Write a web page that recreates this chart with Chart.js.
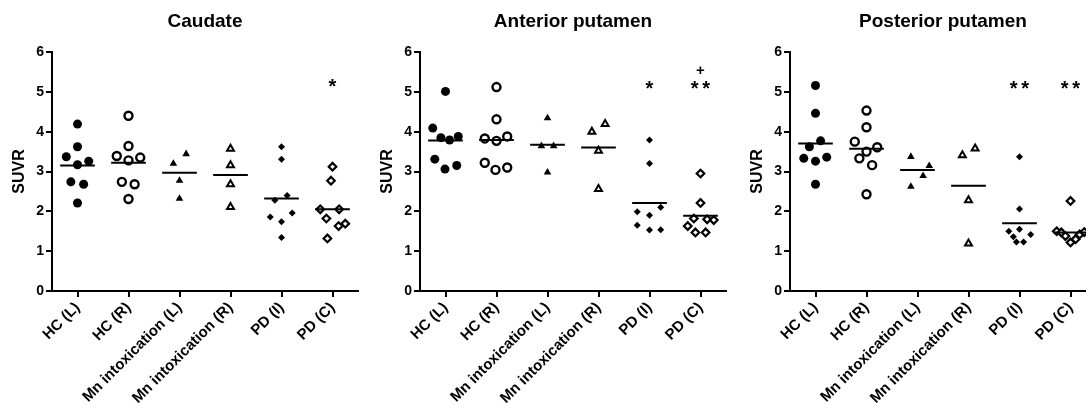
<!DOCTYPE html>
<html>
<head>
<meta charset="utf-8">
<script src="https://cdn.jsdelivr.net/npm/chart.js@4/dist/chart.umd.min.js"></script>
<style>
html,body{margin:0;padding:0;background:#fff;overflow:hidden;width:1086px;height:408px}
.panel{position:absolute;top:0}
</style>
</head>
<body>
<canvas id="c1" class="panel" width="368" height="408" style="left:0px"></canvas>
<canvas id="c2" class="panel" width="368" height="408" style="left:368px"></canvas>
<canvas id="c3" class="panel" width="368" height="408" style="left:738px"></canvas>
<script>
// ── Data ──
const groups=['HC (L)','HC (R)','Mn intoxication (L)','Mn intoxication (R)','PD (I)','PD (C)'];
const yTicks=[0,1,2,3,4,5,6];

// SUVR per subject, one list per group
const caudateVals=[
  [4.19,3.62,3.37,3.17,3.26,2.74,2.68,2.21],
  [4.40,3.64,3.39,3.28,3.35,2.74,2.68,2.31],
  [3.44,3.20,2.77,2.32],
  [3.57,3.16,2.68,2.11],
  [3.62,3.31,2.40,2.28,1.96,1.86,1.74,1.34],
  [3.12,2.77,2.05,2.05,1.82,1.63,1.69,1.32]
];
// horizontal scatter of each dot around its group (category units)
const caudateJitter=[
  [0,0,-0.22,0,0.22,-0.13,0.12,0],
  [0,0,-0.23,0,0.23,-0.13,0.12,0],
  [0.13,-0.12,0,0],
  [0,0,0,0],
  [0,0,0.11,-0.13,0.21,-0.22,0,0],
  [0,-0.03,-0.24,0.13,-0.12,0.12,0.25,-0.10]
];
const caudateMeans=[3.15,3.22,2.97,2.91,2.32,2.05];
const caudateMarks=[{cat:5,text:'*',y:5.25}];

const antVals=[
  [5.01,4.09,3.85,3.79,3.88,3.31,3.06,3.15],
  [5.12,4.31,3.83,3.77,3.88,3.22,3.04,3.10],
  [4.34,3.64,3.64,2.98],
  [4.00,4.19,3.52,2.56],
  [3.79,3.20,1.99,1.90,2.10,1.65,1.53,1.54],
  [2.95,2.21,1.82,1.80,1.78,1.63,1.47,1.47]
];
const antJitter=[
  [0,-0.25,-0.09,0.08,0.25,-0.21,-0.01,0.22],
  [0,0,-0.23,0,0.21,-0.23,-0.02,0.21],
  [0,-0.12,0.12,0],
  [-0.13,0.13,0,0],
  [0,0,-0.24,0,0.22,-0.24,0,0.22],
  [0,0,-0.13,0.13,0.26,-0.25,-0.10,0.10]
];
const antMeans=[3.78,3.79,3.67,3.60,2.21,1.89];
const antMarks=[{cat:4,text:'*',y:5.2},{cat:5,text:'**',y:5.2},{cat:5,text:'+',y:5.56}];

const postVals=[
  [5.16,4.46,3.77,3.62,3.33,3.26,3.36,2.68],
  [4.53,4.11,3.75,3.50,3.61,3.33,3.16,2.43],
  [3.37,3.14,2.89,2.62],
  [3.41,3.58,2.28,1.19],
  [3.37,2.06,1.55,1.50,1.42,1.36,1.23,1.23],
  [2.26,1.50,1.47,1.38,1.22,1.30,1.42,1.48]
];
const postJitter=[
  [0,0,0.10,-0.12,-0.23,0,0.22,0],
  [0,0,-0.23,0,0.21,-0.14,0.11,0],
  [-0.13,0.23,0.11,-0.13],
  [-0.12,0.13,0,0],
  [0,0,0,-0.21,0.22,-0.12,-0.06,0.08],
  [0,-0.27,-0.18,-0.10,0,0.10,0.18,0.27]
];
const postMeans=[3.70,3.57,3.04,2.64,1.70,1.47];
const postMarks=[{cat:4,text:'**',y:5.2},{cat:5,text:'**',y:5.2}];

// ── Styles ──
const FONT="'Liberation Sans', Arial, Helvetica, sans-serif";
const markerStyles=[
  {pointStyle:'circle',radius:4.5,bg:'#000',bw:0},
  {pointStyle:'circle',radius:4,bg:'#fff',bw:2.4},
  {pointStyle:'triangle',radius:4.4,bg:'#000',bw:0},
  {pointStyle:'triangle',radius:4,bg:'#fff',bw:2},
  {pointStyle:'rectRot',radius:3.5,bg:'#000',bw:0},
  {pointStyle:'rectRot',radius:3.8,bg:'#fff',bw:2.2}
];
const MEAN_HALF=0.34;

// panel title centred over the plot area + significance marks
const panelDeco={
  id:'panelDeco',
  afterDatasetsDraw(chart,args,opts){
    const {ctx,chartArea,scales}=chart;
    ctx.save();
    ctx.fillStyle='#000';
    ctx.textAlign='center';
    ctx.font='bold 19px '+FONT;
    ctx.textBaseline='middle';
    ctx.fillText(opts.title,(chartArea.left+chartArea.right)/2,22);
    (opts.marks||[]).forEach(m=>{
      const cx=scales.x.getPixelForValue(m.cat);
      const cy=scales.y.getPixelForValue(m.y);
      ctx.textBaseline='alphabetic';
      if(m.text==='+'){
        ctx.font='bold 15px '+FONT;
        ctx.fillText('+',cx,cy+15*0.35);
      }else{
        ctx.font='bold 20px '+FONT;
        const n=m.text.length, gap=11.5;
        for(let k=0;k<n;k++) ctx.fillText('*',cx+(k-(n-1)/2)*gap,cy+20*0.58);
      }
    });
    ctx.restore();
  }
};

function buildPanel(id,title,vals,jitter,means,marks){
  const datasets=[];
  means.forEach((m,i)=>{
    datasets.push({type:'line',data:[{x:i-MEAN_HALF,y:m},{x:i+MEAN_HALF,y:m}],borderColor:'#000',borderWidth:2,pointRadius:0,fill:false,order:0});
  });
  vals.forEach((arr,i)=>{
    const s=markerStyles[i];
    datasets.push({
      type:'scatter',
      data:arr.map((v,k)=>({x:i+jitter[i][k],y:v})),
      pointStyle:s.pointStyle,pointRadius:s.radius,
      backgroundColor:s.bg,borderColor:'#000',borderWidth:s.bw,
      order:1
    });
  });
  return new Chart(document.getElementById(id),{
    type:'scatter',
    data:{datasets},
    plugins:[panelDeco],
    options:{
      responsive:false,animation:false,
      layout:{padding:{top:52,right:10,left:0,bottom:0}},
      plugins:{legend:{display:false},tooltip:{enabled:false},title:{display:false},
        panelDeco:{title,marks}},
      scales:{
        x:{type:'linear',min:-0.5,max:5.5,
          ticks:{autoSkip:false,minRotation:45,maxRotation:45,padding:2,color:'#000',
            font:{family:FONT,size:15,weight:'bold'},callback:v=>groups[v]??''},
          grid:{drawOnChartArea:false,tickLength:6,color:'#000',lineWidth:2},
          border:{color:'#000',width:2},
          afterBuildTicks:ax=>{ax.ticks=groups.map((g,i)=>({value:i}));},
          afterFit:s=>{s.height=117;}
        },
        y:{min:yTicks[0],max:yTicks[yTicks.length-1],
          afterBuildTicks:ax=>{ax.ticks=yTicks.map(v=>({value:v}));},
          ticks:{color:'#000',padding:2,font:{family:FONT,size:14,weight:'bold'}},
          grid:{drawOnChartArea:false,tickLength:6,color:'#000',lineWidth:2},
          border:{color:'#000',width:2},
          title:{display:true,text:'SUVR',color:'#000',font:{family:FONT,size:16,weight:'bold'},padding:{top:10,bottom:0}},
          afterFit:s=>{s.width=52;}
        }
      }
    }
  });
}

try{buildPanel('c1','Caudate',caudateVals,caudateJitter,caudateMeans,caudateMarks);}catch(e){console.warn('Caudate chart error:',e);}
try{buildPanel('c2','Anterior putamen',antVals,antJitter,antMeans,antMarks);}catch(e){console.warn('Anterior chart error:',e);}
try{buildPanel('c3','Posterior putamen',postVals,postJitter,postMeans,postMarks);}catch(e){console.warn('Posterior chart error:',e);}
</script>
</body>
</html>
